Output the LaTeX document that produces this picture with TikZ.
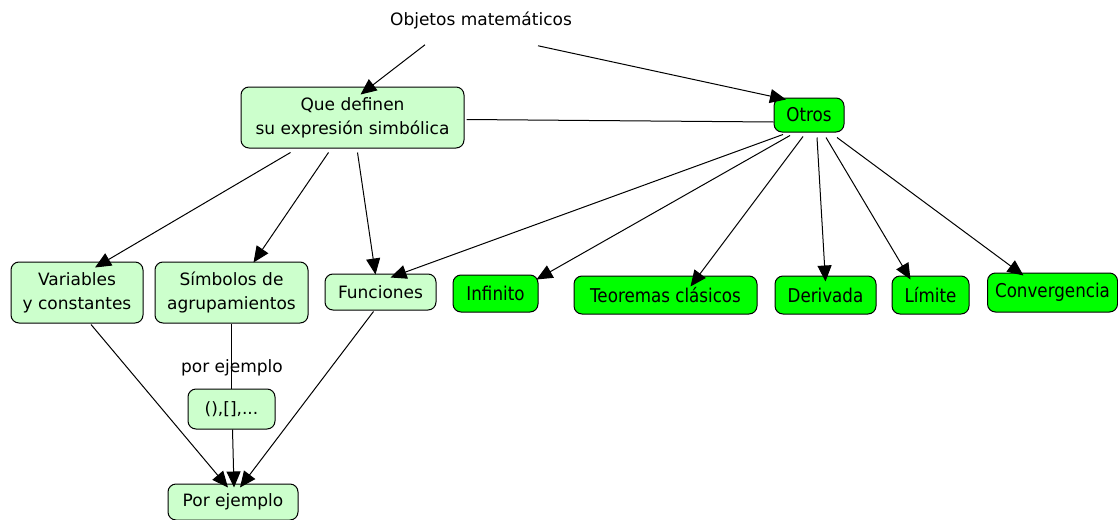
\documentclass[tikz,border=0pt]{standalone}
\usepackage{fontspec}
\setmainfont{DejaVu Sans}
\newfontfamily\condfont{DejaVu Sans}[FakeStretch=0.88]
\usetikzlibrary{arrows.meta}
\definecolor{palegreen}{RGB}{204,255,204}
\definecolor{brightgreen}{RGB}{0,255,0}
\tikzset{
  x=1pt, y=-1pt,
  concept/.style={draw=black, line width=1pt, rounded corners=8pt, inner sep=0pt,
    align=center, font=\fontsize{17}{24}\selectfont},
  pale/.style={concept, fill=palegreen},
  bright/.style={concept, fill=brightgreen, font=\condfont\fontsize{19}{24}\selectfont},
  plain/.style={inner sep=0pt, font=\fontsize{17}{24}\selectfont},
  arr/.style={line width=1pt, -{Triangle[length=16pt,width=14pt]}},
  link/.style={line width=1pt}
}
\begin{document}
\begin{tikzpicture}
\useasboundingbox (0,0) rectangle (1118,519);
% concepts
\node[plain] (obj) at (481,20) {Objetos matemáticos};
\node[pale, minimum width=223pt, minimum height=61pt] (qd) at (352.5,117.5) {Que definen\\su expresión simbólica};
\node[bright, minimum width=70pt, minimum height=34pt] (otros) at (809,115) {Otros};
\node[pale, minimum width=132pt, minimum height=61pt] (var) at (77,292.5) {Variables\\y constantes};
\node[pale, minimum width=153pt, minimum height=61pt] (sim) at (231.5,292.5) {Símbolos de\\agrupamientos};
\node[pale, minimum width=111pt, minimum height=36pt] (fun) at (380.5,292) {Funciones};
\node[bright, minimum width=85pt, minimum height=37pt] (inf) at (495.5,293.5) {Infinito};
\node[bright, minimum width=183pt, minimum height=38pt] (teo) at (665.5,295) {Teoremas clásicos};
\node[bright, minimum width=101pt, minimum height=38pt] (der) at (825.5,295) {Derivada};
\node[bright, minimum width=77pt, minimum height=38pt] (lim) at (930.5,295) {Límite};
\node[bright, minimum width=130pt, minimum height=39pt] (conv) at (1052.5,292.5) {Convergencia};
\node[pale, minimum width=87pt, minimum height=40pt] (par) at (231.5,409) {(),[],...};
\node[pale, minimum width=130pt, minimum height=36pt] (pe) at (233,502) {Por ejemplo};
\node[plain] (lbl) at (232,368) {por ejemplo};
% connectors
\draw[arr] ([xshift=-56pt,yshift=-16pt]obj.south) -- ([xshift=8pt,yshift=-8pt]qd.north);
\draw[arr] ([xshift=57pt,yshift=-17pt]obj.south) -- ([xshift=-23pt,yshift=-2pt]otros.north);
\draw[link] ([xshift=2pt,yshift=-2pt]qd.east) -- ([yshift=-7pt]otros.west);
\draw[arr] ([xshift=-62pt,yshift=-4pt]qd.south) -- ([xshift=18pt,yshift=-6pt]var.north);
\draw[arr] ([xshift=-24pt,yshift=-4pt]qd.south) -- ([xshift=22pt,yshift=-1pt]sim.north);
\draw[arr] ([xshift=5pt,yshift=-4pt]qd.south) -- ([xshift=-5pt,yshift=-1pt]fun.north);
\draw[arr] ([xshift=-26pt,yshift=-2pt]otros.south) -- ([xshift=10pt,yshift=-4pt]fun.north);
\draw[arr] ([xshift=-19pt,yshift=-3pt]otros.south) -- ([xshift=41pt,yshift=-5pt]inf.north);
\draw[arr] ([xshift=-6pt,yshift=-4pt]otros.south) -- ([xshift=25pt,yshift=-11pt]teo.north);
\draw[arr] ([xshift=8pt,yshift=-5pt]otros.south) -- ([yshift=-6pt]der.north);
\draw[arr] ([xshift=17pt,yshift=-5pt]otros.south) -- ([xshift=-20pt,yshift=-4pt]lim.north);
\draw[arr] ([xshift=28pt,yshift=-5pt]otros.south) -- ([xshift=-29pt,yshift=-3pt]conv.north);
\draw[link] (sim.south) -- (par.north);
\draw[arr] ([xshift=14pt,yshift=-1pt]var.south) -- ([xshift=-5pt,yshift=-4pt]pe.north);
\draw[arr] ([xshift=1pt]par.south) -- ([xshift=1pt,yshift=-4pt]pe.north);
\draw[arr] ([xshift=-7pt,yshift=-1pt]fun.south) -- ([xshift=7pt,yshift=-4pt]pe.north);
\end{tikzpicture}
\end{document}
